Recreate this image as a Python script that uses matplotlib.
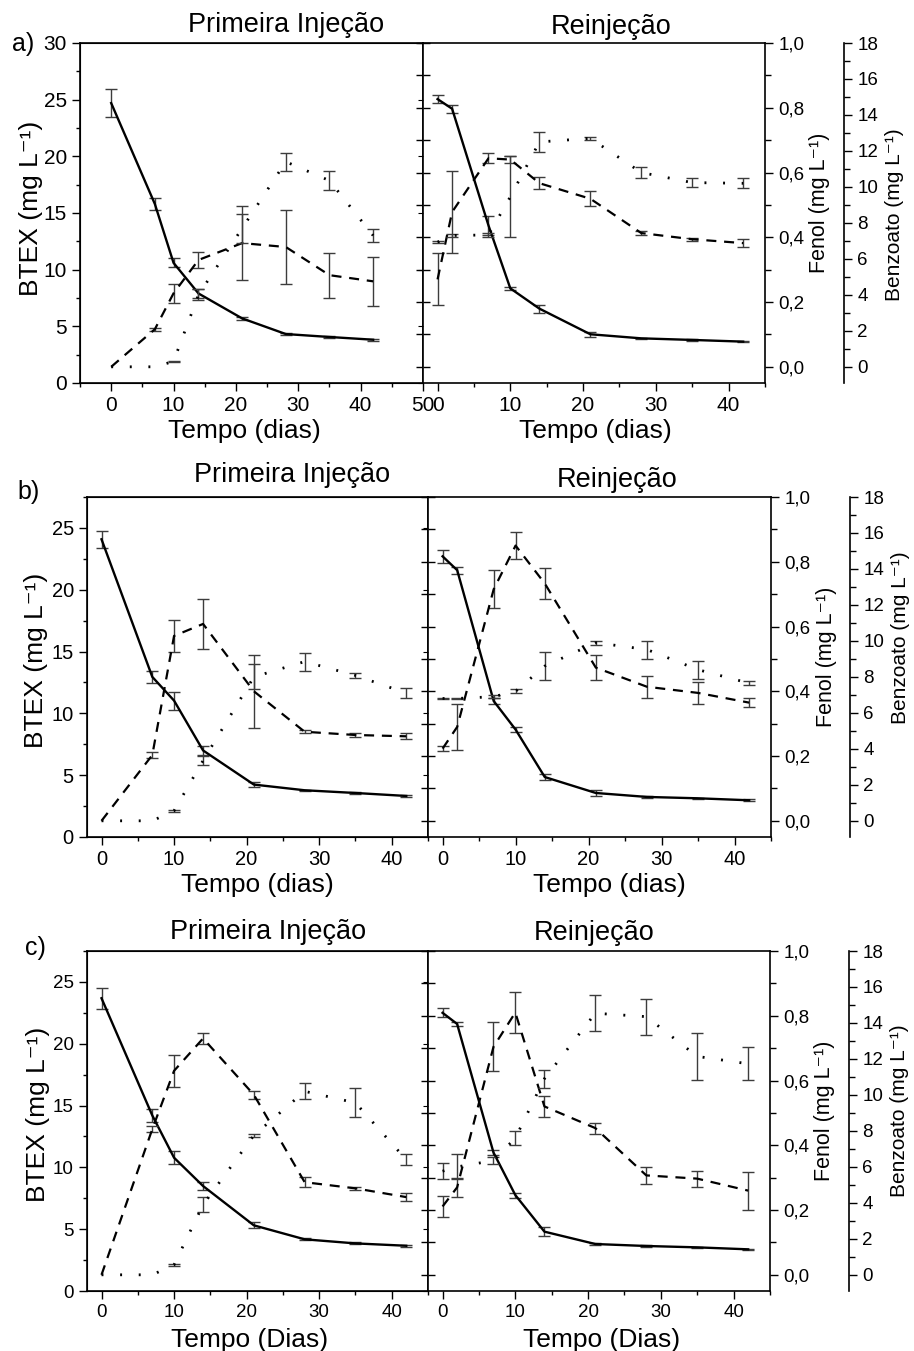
import numpy as np
import matplotlib
matplotlib.use('Agg')
import matplotlib.pyplot as plt
from matplotlib.ticker import MultipleLocator, FuncFormatter

plt.rcParams['font.family'] = ['Liberation Sans', 'DejaVu Sans']

# ---------------- data ----------------
days_first = [0, 7, 10, 14, 21, 28, 35, 42]
days_re = [0, 2, 7, 10, 14, 21, 28, 35, 42]

# panel a - primeira injecao
btex_a1 = [24.7, 15.8, 10.6, 7.9, 5.7, 4.32, 4.06, 3.82]
btex_a1_err = [1.2, 0.5, 0.4, 0.4, 0.13, 0.1, 0.05, 0.1]
fenol_a1 = [0.0, 0.116, 0.227, 0.33, 0.382, 0.37, 0.283, 0.264]
fenol_a1_err = [0.0, 0.005, 0.03, 0.026, 0.114, 0.115, 0.069, 0.076]
benz_a1 = [0.0, 0.0, 0.3, 4.0, 7.7, 11.4, 10.35, 7.3]
benz_a1_err = [0.0, 0.0, 0.05, 0.3, 0.8, 0.5, 0.52, 0.38]
# panel a - reinjecao
btex_a2 = [25.05, 24.2, 13.9, 8.35, 6.56, 4.3, 3.94, 3.8, 3.65]
btex_a2_err = [0.37, 0.34, 0.8, 0.15, 0.36, 0.2, 0.05, 0.05, 0.05]
fenol_a2 = [0.27, 0.478, 0.644, 0.64, 0.567, 0.519, 0.413, 0.394, 0.382]
fenol_a2_err = [0.08, 0.127, 0.015, 0.01, 0.019, 0.023, 0.005, 0.005, 0.012]
benz_a2 = [6.93, 7.3, 7.33, 9.45, 12.5, 12.7, 10.8, 10.24, 10.2]
benz_a2_err = [0.05, 0.1, 0.1, 2.25, 0.55, 0.1, 0.28, 0.25, 0.28]

# panel b - primeira injecao
btex_b1 = [24.08, 12.95, 11.03, 7.0, 4.24, 3.78, 3.56, 3.32]
btex_b1_err = [0.67, 0.5, 0.72, 0.4, 0.2, 0.05, 0.05, 0.05]
fenol_b1 = [0.0, 0.203, 0.571, 0.608, 0.40, 0.275, 0.265, 0.261]
fenol_b1_err = [0.0, 0.008, 0.05, 0.078, 0.112, 0.005, 0.005, 0.009]
benz_b1 = [0.0, 0.0, 0.56, 3.35, 8.0, 8.85, 8.08, 7.1]
benz_b1_err = [0.0, 0.0, 0.05, 0.25, 0.7, 0.5, 0.14, 0.3]
# panel b - reinjecao
btex_b2 = [22.7, 21.58, 11.0, 8.69, 4.85, 3.56, 3.24, 3.13, 2.97]
btex_b2_err = [0.5, 0.27, 0.25, 0.2, 0.27, 0.28, 0.05, 0.05, 0.08]
fenol_b2 = [0.223, 0.29, 0.715, 0.85, 0.733, 0.473, 0.414, 0.395, 0.365]
fenol_b2_err = [0.008, 0.072, 0.059, 0.042, 0.049, 0.039, 0.034, 0.034, 0.015]
benz_b2 = [6.8, 6.8, 6.9, 7.2, 8.6, 9.9, 9.52, 8.4, 7.65]
benz_b2_err = [0.05, 0.05, 0.1, 0.1, 0.77, 0.1, 0.5, 0.5, 0.1]

# panel c - primeira injecao
btex_c1 = [23.68, 14.2, 10.78, 8.49, 5.31, 4.18, 3.85, 3.66]
btex_c1_err = [0.84, 0.54, 0.54, 0.31, 0.25, 0.08, 0.08, 0.08]
fenol_c1 = [0.0, 0.45, 0.63, 0.73, 0.556, 0.286, 0.267, 0.24]
fenol_c1_err = [0.0, 0.01, 0.049, 0.018, 0.012, 0.015, 0.005, 0.013]
benz_c1 = [0.0, 0.0, 0.56, 3.9, 7.75, 10.2, 9.56, 6.4]
benz_c1_err = [0.0, 0.0, 0.05, 0.4, 0.1, 0.45, 0.81, 0.31]
# panel c - reinjecao
btex_c2 = [22.5, 21.6, 11.2, 7.76, 4.8, 3.8, 3.64, 3.53, 3.37]
btex_c2_err = [0.36, 0.16, 0.2, 0.2, 0.38, 0.05, 0.05, 0.05, 0.05]
fenol_c2 = [0.211, 0.27, 0.704, 0.81, 0.52, 0.453, 0.307, 0.297, 0.26]
fenol_c2_err = [0.031, 0.03, 0.076, 0.063, 0.033, 0.017, 0.026, 0.025, 0.059]
benz_c2 = [5.76, 6.0, 6.35, 7.6, 10.9, 14.54, 14.35, 12.14, 11.73]
benz_c2_err = [0.43, 0.7, 0.2, 0.4, 0.5, 1.0, 1.0, 1.31, 0.91]

title_first = "Primeira Injeção"
title_re = "Reinjeção"
label_btex = "BTEX (mg L⁻¹)"
label_fenol = "Fenol (mg L⁻¹)"
label_benz = "Benzoato (mg L⁻¹)"

# ---------------- figure ----------------
W, H = 914, 1351
fig = plt.figure(figsize=(W / 100, H / 100), dpi=100)


def rect(x0, x1, ybot, ytop):
    return [x0 / W, 1 - ybot / H, (x1 - x0) / W, (ybot - ytop) / H]


comma = FuncFormatter(lambda v, p: f"{v:.1f}".replace('.', ','))
intfmt = FuncFormatter(lambda v, p: f"{v:.0f}")

FEN_LIM = (-0.05, 1.0)
BEN_LIM = (-0.9, 18)
ECOL = '#3c3c3c'


def series(ax, x, y, e, kind):
    x = np.asarray(x, float)
    y = np.asarray(y, float)
    e = np.asarray(e, float)
    m = e > 0
    ax.errorbar(x[m], y[m], yerr=e[m], fmt='none', ecolor=ECOL,
                elinewidth=1.0, capsize=4, capthick=1.0, zorder=2)
    if kind == 'solid':
        ax.plot(x, y, color='black', lw=1.7, zorder=3)
    elif kind == 'dashed':
        ln, = ax.plot(x, y, color='black', lw=1.6, zorder=3)
        ln.set_dashes((4.5, 3.5))
    else:
        ln, = ax.plot(x, y, color='black', lw=2.0, zorder=3)
        ln.set_dashes((0.7, 6.0))


def style_x(ax, xlim, ticks, fs):
    ax.set_xlim(*xlim)
    ax.set_xticks(ticks)
    ax.xaxis.set_minor_locator(MultipleLocator(5))
    ax.tick_params(axis='x', which='major', direction='out', length=6,
                   width=1, labelsize=fs, top=False)
    ax.tick_params(axis='x', which='minor', direction='out', length=3,
                   width=1, top=False)


def panel(rl, rr, bt_lim, bt_major_max, xlimL, xticksL, fs, xlab,
          d1, b1, b1e, f1, f1e, z1, z1e, d2, b2, b2e, f2, f2e, z2, z2e,
          ylab_xy, xlabL_xy, xlabR_xy, benz_ly):
    # ---- left (primeira injecao)
    axL = fig.add_axes(rl)
    axL.set_ylim(*bt_lim)
    axL.set_yticks(np.arange(0, bt_major_max + 0.1, 5))
    axL.yaxis.set_minor_locator(MultipleLocator(2.5))
    axL.tick_params(axis='y', which='major', direction='out', length=6,
                    width=1, labelsize=fs, right=False)
    axL.tick_params(axis='y', which='minor', direction='out', length=3,
                    width=1, right=False)
    style_x(axL, xlimL, xticksL, fs)
    axL.set_ylabel(label_btex, fontsize=19)
    axL.yaxis.set_label_coords(*ylab_xy)
    axL.set_xlabel(xlab, fontsize=19, va='top')
    axL.xaxis.set_label_coords(*xlabL_xy)
    for s in axL.spines.values():
        s.set_linewidth(1.2)
    axLf = axL.twinx()
    axLf.set_ylim(*FEN_LIM)
    axLf.yaxis.set_major_locator(MultipleLocator(0.1))
    axLf.tick_params(axis='y', direction='in', length=5, width=1,
                     labelright=False, right=True)
    axLb = axL.twinx()
    axLb.set_ylim(*BEN_LIM)
    axLb.set_axis_off()
    series(axL, d1, b1, b1e, 'solid')
    series(axLf, d1, f1, f1e, 'dashed')
    series(axLb, d1, z1, z1e, 'dotted')

    # ---- right (reinjecao)
    axR = fig.add_axes(rr)
    axR.set_ylim(*bt_lim)
    axR.tick_params(axis='y', which='both', left=False, right=False,
                    labelleft=False)
    style_x(axR, (-2, 45), [0, 10, 20, 30, 40], fs)
    axR.set_xlabel(xlab, fontsize=19, va='top')
    axR.xaxis.set_label_coords(*xlabR_xy)
    for s in axR.spines.values():
        s.set_linewidth(1.2)
    # inward fenol ticks on the shared middle spine
    axRi = axR.twinx()
    axRi.set_ylim(*FEN_LIM)
    axRi.yaxis.set_ticks_position('left')
    axRi.yaxis.set_major_locator(MultipleLocator(0.1))
    axRi.tick_params(axis='y', direction='in', length=5, width=1,
                     labelleft=False)
    axRi.set_frame_on(False)
    # fenol axis
    axRf = axR.twinx()
    axRf.set_ylim(*FEN_LIM)
    axRf.set_yticks(np.arange(0, 1.01, 0.2))
    axRf.yaxis.set_minor_locator(MultipleLocator(0.1))
    axRf.yaxis.set_major_formatter(comma)
    axRf.tick_params(axis='y', which='major', direction='out', length=6,
                     width=1, labelsize=13.5)
    axRf.tick_params(axis='y', which='minor', direction='out', length=4,
                     width=1)
    axRf.set_ylabel(label_fenol, fontsize=15.5)
    axRf.yaxis.set_label_coords(1.13, 0.53)
    axRf.set_frame_on(False)
    # benzoato axis
    axRb = axR.twinx()
    axRb.set_ylim(*BEN_LIM)
    axRb.spines['right'].set_position(('outward', 57))
    for k in ('top', 'bottom', 'left'):
        axRb.spines[k].set_visible(False)
    axRb.spines['right'].set_linewidth(1.2)
    axRb.set_yticks(np.arange(0, 18.1, 2))
    axRb.yaxis.set_minor_locator(MultipleLocator(1))
    axRb.yaxis.set_major_formatter(intfmt)
    axRb.tick_params(axis='y', which='major', direction='out', length=6,
                     width=1, labelsize=13.5)
    axRb.tick_params(axis='y', which='minor', direction='out', length=4,
                     width=1)
    axRb.set_ylabel(label_benz, fontsize=15)
    axRb.yaxis.set_label_coords(1.35, benz_ly)
    series(axR, d2, b2, b2e, 'solid')
    series(axRf, d2, f2, f2e, 'dashed')
    series(axRb, d2, z2, z2e, 'dotted')
    return axL, axR


# panel a
panel(rect(80, 423, 383, 43), rect(423, 765, 383, 43), (0, 30), 30,
      (-5, 50), [0, 10, 20, 30, 40, 50], 15, "Tempo (dias)",
      days_first, btex_a1, btex_a1_err, fenol_a1, fenol_a1_err, benz_a1, benz_a1_err,
      days_re, btex_a2, btex_a2_err, fenol_a2, fenol_a2_err, benz_a2, benz_a2_err,
      (-0.108, 0.515), (0.48, -0.105), (0.503, -0.105), 0.494)
# panel b
panel(rect(87, 428, 837, 497), rect(428, 771, 837, 497), (0, 27.5), 25,
      (-2, 45), [0, 10, 20, 30, 40], 14.5, "Tempo (dias)",
      days_first, btex_b1, btex_b1_err, fenol_b1, fenol_b1_err, benz_b1, benz_b1_err,
      days_re, btex_b2, btex_b2_err, fenol_b2, fenol_b2_err, benz_b2, benz_b2_err,
      (-0.115, 0.52), (0.5, -0.106), (0.528, -0.106), 0.587)
# panel c
panel(rect(87, 428, 1291, 951), rect(428, 770, 1291, 951), (0, 27.5), 25,
      (-2, 45), [0, 10, 20, 30, 40], 13.5, "Tempo (Dias)",
      days_first, btex_c1, btex_c1_err, fenol_c1, fenol_c1_err, benz_c1, benz_c1_err,
      days_re, btex_c2, btex_c2_err, fenol_c2, fenol_c2_err, benz_c2, benz_c2_err,
      (-0.108, 0.52), (0.478, -0.109), (0.508, -0.109), 0.53)

# titles and panel letters
def ftext(x, y, s, fs, ha='center'):
    fig.text(x / W, 1 - y / H, s, fontsize=fs, ha=ha, va='center')

ftext(286, 25, title_first, 19.5)
ftext(611, 27, title_re, 19.5)
ftext(292, 475, title_first, 19.5)
ftext(617, 480, title_re, 19.5)
ftext(268, 932, title_first, 19.5)
ftext(594, 933, title_re, 19.5)
ftext(12, 44, "a)", 18, ha='left')
ftext(17, 492, "b)", 18, ha='left')
ftext(25, 948, "c)", 18, ha='left')

fig.savefig('out.png', dpi=100)
